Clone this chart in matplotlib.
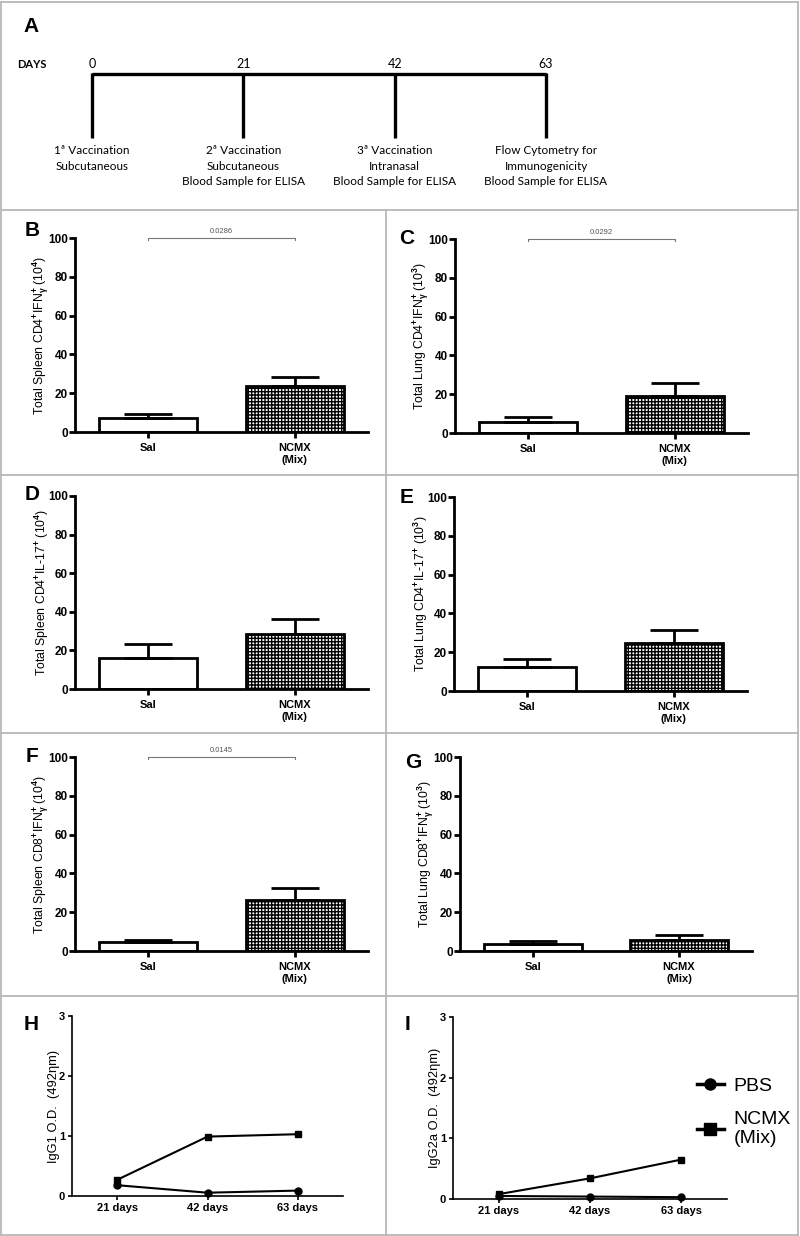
import numpy as np
import matplotlib.pyplot as plt
from matplotlib.lines import Line2D

plt.rcParams['font.family'] = ['Liberation Sans', 'DejaVu Sans']
plt.rcParams['font.weight'] = 'bold'
plt.rcParams['mathtext.fontset'] = 'custom'
plt.rcParams['mathtext.rm'] = 'Liberation Sans:bold'
plt.rcParams['mathtext.it'] = 'Liberation Sans:bold'
plt.rcParams['mathtext.bf'] = 'Liberation Sans:bold'
plt.rcParams['hatch.linewidth'] = 1.0

# timeline (panel A)
days = [0, 21, 42, 63]
events = [
    '1ª Vaccination\nSubcutaneous',
    '2ª Vaccination\nSubcutaneous\nBlood Sample for ELISA',
    '3ª Vaccination\nIntranasal\nBlood Sample for ELISA',
    'Flow Cytometry for\nImmunogenicity\nBlood Sample for ELISA',
]

# bar panels B-G: mean and SEM (upper error only)
groups = ['Sal', 'NCMX\n(Mix)']
spleen_cd4_ifng = [7.4, 23.7]
spleen_cd4_ifng_sem = [1.7, 4.8]
lung_cd4_ifng = [5.8, 19.1]
lung_cd4_ifng_sem = [2.6, 6.8]
spleen_cd4_il17 = [16.2, 28.5]
spleen_cd4_il17_sem = [7.0, 7.9]
lung_cd4_il17 = [12.4, 24.9]
lung_cd4_il17_sem = [4.1, 6.4]
spleen_cd8_ifng = [4.6, 26.5]
spleen_cd8_ifng_sem = [0.9, 6.0]
lung_cd8_ifng = [3.5, 5.5]
lung_cd8_ifng_sem = [1.5, 2.5]

# ELISA panels H-I
timepoints = ['21 days', '42 days', '63 days']
igg1_pbs = [0.18, 0.055, 0.09]
igg1_ncmx = [0.27, 0.99, 1.03]
igg2a_pbs = [0.05, 0.04, 0.03]
igg2a_ncmx = [0.08, 0.34, 0.65]

W, H = 800, 1236


def rect(left, top, right, bottom):
    return [left / W, 1 - bottom / H, (right - left) / W, (bottom - top) / H]


def fx(x):
    return x / W


def fy(y):
    return 1 - y / H


fig = plt.figure(figsize=(8, 12.36), dpi=100)

# grey frame around the panels
frame = dict(transform=fig.transFigure, color='#b8b8b8', lw=1.3)
for y in [1.5, 210, 475, 733, 996, 1234.5]:
    fig.add_artist(Line2D([fx(1), fx(798)], [fy(y), fy(y)], **frame))
for x in [1, 798]:
    fig.add_artist(Line2D([fx(x), fx(x)], [fy(1.5), fy(1234.5)], **frame))
fig.add_artist(Line2D([fx(386), fx(386)], [fy(210), fy(1234.5)], **frame))

# ---- panel A: timeline (x in days, y in pixels of the panel)
axA = fig.add_axes([0, 1 - 210 / H, 1, 210 / H])
px_per_day = (546 - 92) / 63
axA.set_xlim(-92 / px_per_day, 63 + (800 - 546) / px_per_day)
axA.set_ylim(210, 0)
axA.axis('off')
axA.plot([days[0], days[-1]], [74, 74], color='black', lw=2.4, solid_capstyle='butt')
soft = ['Lato', 'Liberation Sans', 'DejaVu Sans']
for d, ev in zip(days, events):
    axA.plot([d, d], [73, 138], color='black', lw=2.4, solid_capstyle='butt')
    axA.text(d, 64, str(d), ha='center', va='center', fontsize=9,
             fontweight='normal', family=soft)
    axA.text(d, 145, ev, ha='center', va='top', fontsize=8.5,
             fontweight='normal', family=soft, linespacing=1.5)
axA.text(-60 / px_per_day, 64, 'DAYS', ha='center', va='center', fontsize=8,
         fontweight='bold', family=soft)
fig.text(fx(31), fy(27), 'A', ha='center', va='center', fontsize=15, fontweight='bold')


def bar_panel(box, means, sems, ylabel, letter, letter_xy, pval=None):
    ax = fig.add_axes(rect(*box))
    x = np.arange(len(groups))
    bars = ax.bar(x, means, width=0.67, color='white', edgecolor='black',
                  linewidth=2, zorder=2)
    bars[1].set_hatch('+++++')
    ax.errorbar(x, means, yerr=[np.zeros(len(sems)), sems], fmt='none',
                ecolor='black', elinewidth=2, capsize=17, capthick=2, zorder=3)
    ax.set_xlim(-0.5, 1.5)
    ax.set_ylim(0, 100)
    ax.set_yticks([0, 20, 40, 60, 80, 100])
    ax.set_xticks(x)
    ax.set_xticklabels(groups, fontsize=8)
    ax.tick_params(axis='y', labelsize=8.5, width=2, length=4, pad=1)
    ax.tick_params(axis='x', width=2, length=4, pad=4)
    for s in ['top', 'right']:
        ax.spines[s].set_visible(False)
    for s in ['left', 'bottom']:
        ax.spines[s].set_linewidth(2)
    ax.set_ylabel(ylabel, fontsize=8.8)
    ax.yaxis.set_label_coords(-0.082, 0.5)
    if pval is not None:
        ax.plot([0, 0, 1, 1], [98.8, 100, 100, 98.8], color='#777777', lw=0.8,
                clip_on=False)
        ax.text(0.5, 101.8, pval, ha='center', va='bottom', fontsize=5.5,
                color='#555555', fontweight='normal')
    fig.text(fx(letter_xy[0]), fy(letter_xy[1]), letter, ha='center', va='center',
             fontsize=15, fontweight='bold')
    return ax


bar_panel((75, 238, 368, 432), spleen_cd4_ifng, spleen_cd4_ifng_sem,
          r'Total Spleen CD4$^{+}$IFN$_{\gamma}^{+}$ (10$^{4}$)', 'B', (32, 230), '0.0286')
bar_panel((455, 239, 748, 433), lung_cd4_ifng, lung_cd4_ifng_sem,
          r'Total Lung CD4$^{+}$IFN$_{\gamma}^{+}$ (10$^{3}$)', 'C', (407, 238), '0.0292')
bar_panel((75, 496, 368, 689), spleen_cd4_il17, spleen_cd4_il17_sem,
          r'Total Spleen CD4$^{+}$IL-17$^{+}$ (10$^{4}$)', 'D', (32, 495))
bar_panel((454, 497, 747, 691), lung_cd4_il17, lung_cd4_il17_sem,
          r'Total Lung CD4$^{+}$IL-17$^{+}$ (10$^{3}$)', 'E', (407, 497))
bar_panel((75, 757, 368, 951), spleen_cd8_ifng, spleen_cd8_ifng_sem,
          r'Total Spleen CD8$^{+}$IFN$_{\gamma}^{+}$ (10$^{4}$)', 'F', (32, 757), '0.0145')
bar_panel((460, 757, 752, 951), lung_cd8_ifng, lung_cd8_ifng_sem,
          r'Total Lung CD8$^{+}$IFN$_{\gamma}^{+}$ (10$^{3}$)', 'G', (413, 762))


def line_panel(box, pbs, ncmx, ylabel, letter, letter_xy):
    ax = fig.add_axes(rect(*box))
    x = np.arange(len(timepoints))
    ax.plot(x, pbs, color='black', lw=1.5, marker='o', ms=5, clip_on=False, zorder=3)
    ax.plot(x, ncmx, color='black', lw=1.5, marker='s', ms=5, clip_on=False, zorder=3)
    ax.set_xlim(-0.5, 2.5)
    ax.set_ylim(0, 3)
    ax.set_yticks([0, 1, 2, 3])
    ax.set_xticks(x)
    ax.set_xticklabels(timepoints)
    ax.tick_params(labelsize=8, width=1.2, length=3, pad=2)
    for s in ['top', 'right']:
        ax.spines[s].set_visible(False)
    for s in ['left', 'bottom']:
        ax.spines[s].set_linewidth(1.2)
    ax.set_ylabel(ylabel, fontsize=9.3)
    ax.yaxis.set_label_coords(-0.045, 0.5)
    fig.text(fx(letter_xy[0]), fy(letter_xy[1]), letter, ha='center', va='center',
             fontsize=15, fontweight='bold')
    return ax


line_panel((72, 1016, 343, 1196), igg1_pbs, igg1_ncmx,
           'IgG1 O.D.  (492ηm)', 'H', (31, 1025))
axI = line_panel((453, 1017, 727, 1199), igg2a_pbs, igg2a_ncmx,
                 'IgG2a O.D.  (492ηm)', 'I', (407, 1025))

handles = [Line2D([], [], color='black', lw=2.5, marker='o', ms=8),
           Line2D([], [], color='black', lw=2.5, marker='s', ms=8)]
axI.legend(handles, ['PBS', 'NCMX\n(Mix)'], loc='upper left',
           bbox_to_anchor=(fx(679), fy(1060)), bbox_transform=fig.transFigure,
           frameon=False, handlelength=1.4, handletextpad=0.5, labelspacing=0.8,
           prop={'size': 14, 'weight': 'normal'})

fig.savefig('out.png', dpi=100)
